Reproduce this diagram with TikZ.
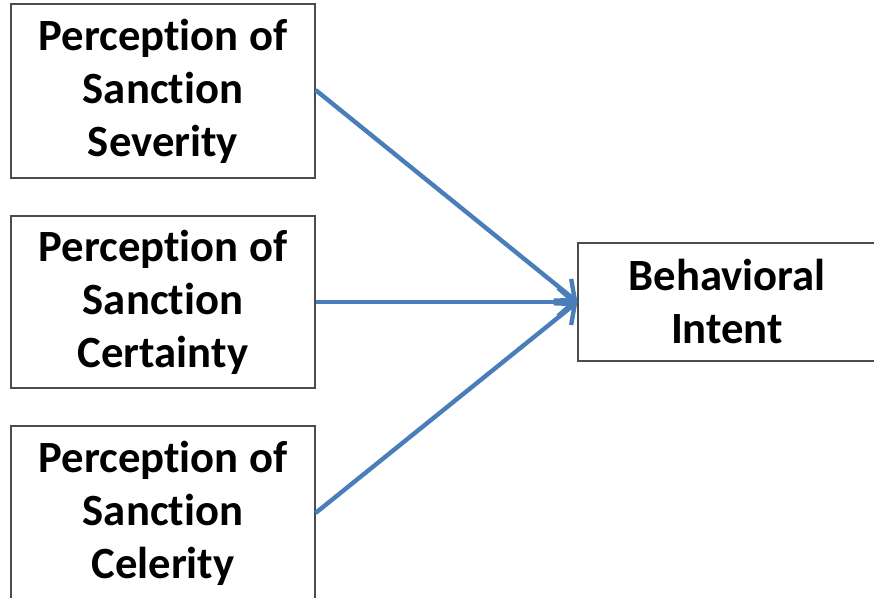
\documentclass[tikz,border=0pt]{standalone}
\usepackage{fontspec}
\setmainfont{Carlito}[Ligatures={NoCommon,NoContextual}, Contextuals=NoAlternate]
\usetikzlibrary{arrows.meta}

\definecolor{arrowblue}{HTML}{4A7EBB}

\begin{document}
\begin{tikzpicture}[x=0.75pt,y=0.75pt,
    box/.style={draw=black!70, line width=0.9pt, align=center, inner sep=0pt,
      font=\fontsize{33.5}{39.75}\selectfont\bfseries},
    link/.style={arrowblue, line width=3.3pt, -{Straight Barb[length=12pt,width=21pt,line width=3.3pt]}}]
    \useasboundingbox (0,0) rectangle (874,598);

    \node[box, minimum width=228pt, minimum height=130.5pt] (sev) at (163,507) {Perception of\\Sanction\\Severity};
    \node[box, minimum width=228pt, minimum height=129pt] (cert) at (163,296) {Perception of\\Sanction\\Certainty};
    \node[box, minimum width=228pt, minimum height=130.5pt] (cel) at (163,85) {Perception of\\Sanction\\Celerity};
    \node[box, minimum width=223.5pt, minimum height=88.5pt] (intent) at (727,296) {Behavioral\\Intent};

    \draw[link] (sev.east |- 0,508) -- (intent.west);
    \draw[link] (cert.east) -- (intent.west);
    \draw[link] (cel.east |- 0,85) -- (intent.west);
\end{tikzpicture}
\end{document}
